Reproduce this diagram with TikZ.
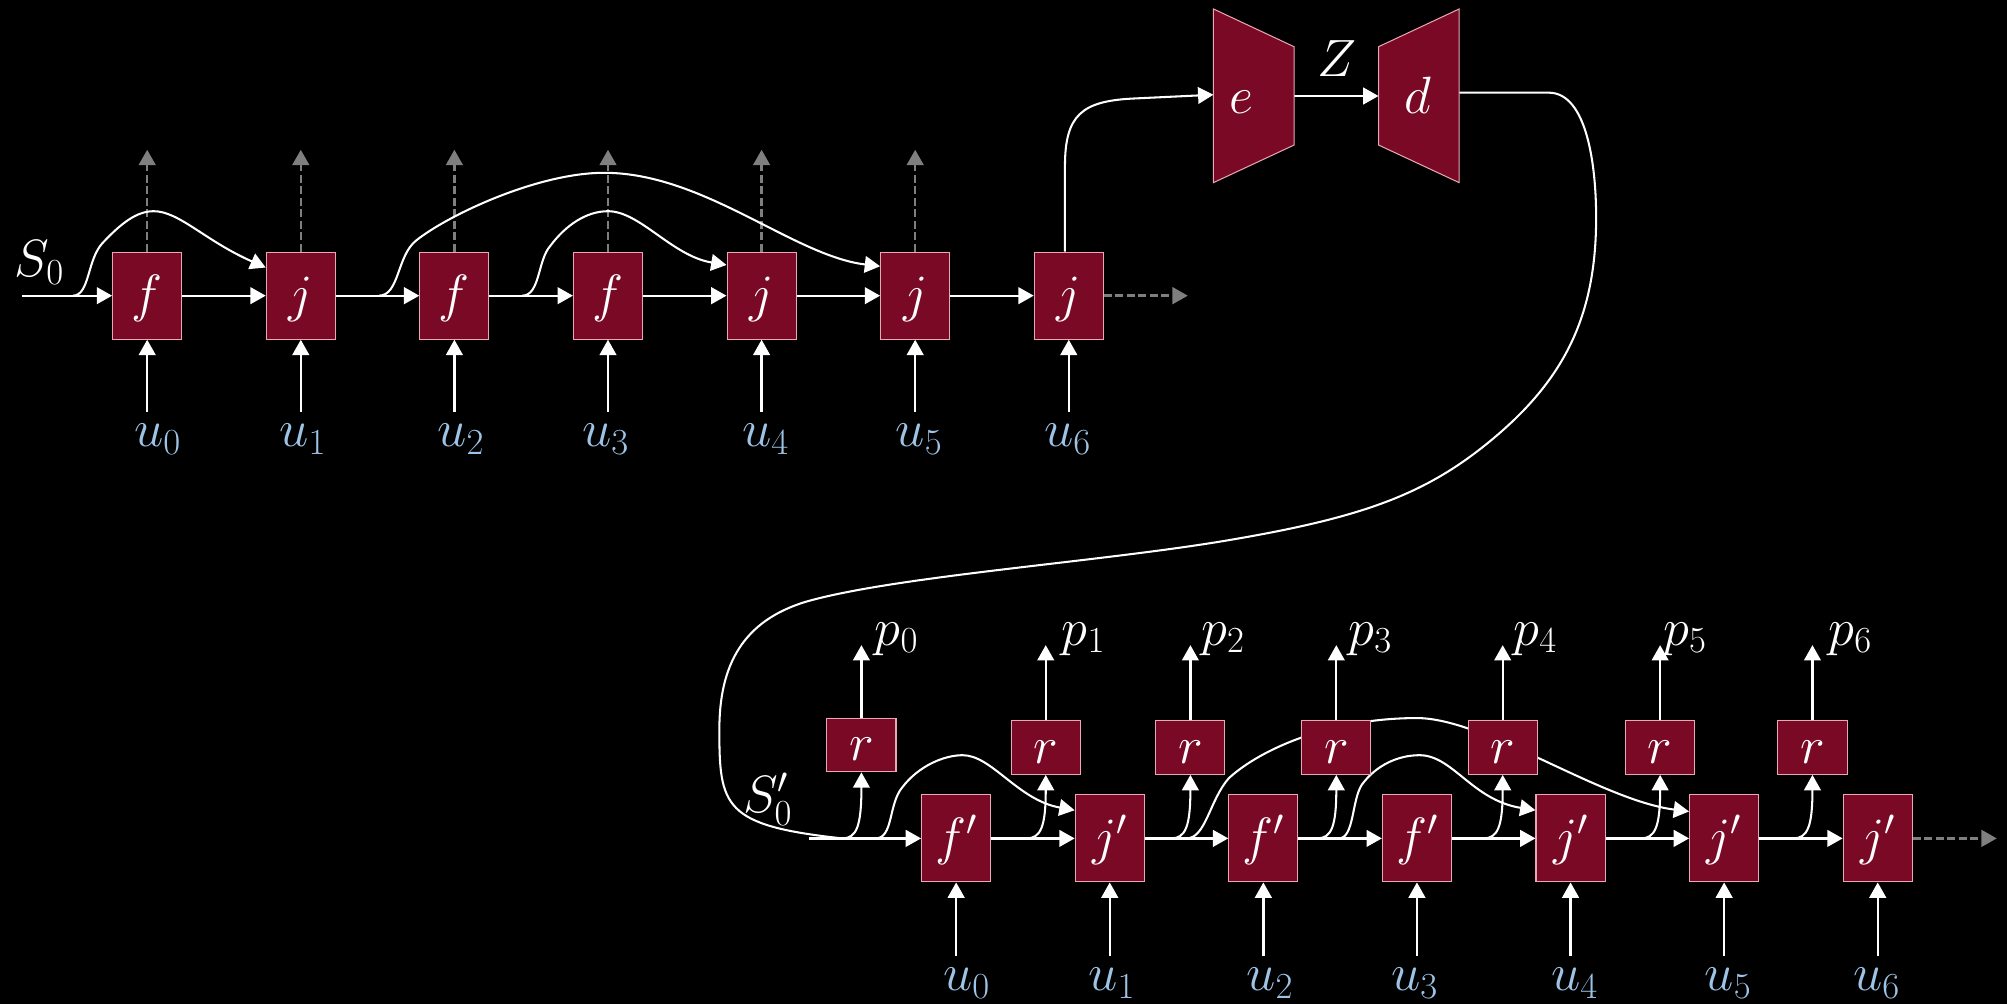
\RequirePackage{fix-cm}
\documentclass[tikz,border=0pt]{standalone}
\usetikzlibrary{arrows.meta,calc}

\definecolor{boxred}{RGB}{122,9,38}
\definecolor{boxedge}{RGB}{232,166,182}
\definecolor{ublue}{RGB}{157,195,230}
\definecolor{dgray}{RGB}{127,127,127}

\pgfdeclarelayer{back}
\pgfdeclarelayer{wires}
\pgfsetlayers{back,wires,main}

\tikzset{
  every node/.style={font=\fontsize{41}{48}\selectfont, text=white},
  blk/.style={draw=boxedge, line width=0.8pt, fill=boxred, inner sep=0pt,
    minimum width=54pt, minimum height=68pt, text height=31pt, text depth=6pt},
  rblk/.style={blk, minimum height=42pt},
  tip/.style={-{Triangle[length=12pt,width=13pt]}},
  flow/.style={draw=white, line width=1.8pt, tip},
  wire/.style={draw=white, line width=1.6pt},
  wirearrow/.style={wire, tip},
  ghost/.style={draw=dgray, line width=2pt, dash pattern=on 6pt off 3pt,
    -{Triangle[length=12pt,width=13pt]}},
  ulabel/.style={text=ublue, anchor=base},
  plabel/.style={anchor=base west},
  trap/.style={draw=boxedge, line width=0.8pt, fill=boxred},
}

\begin{document}
\begin{tikzpicture}[x=1pt,y=-1pt]
\useasboundingbox (0,0) rectangle (1568,784);
\begin{pgfonlayer}{back}
  \fill[black] (0,0) rectangle (1568,784);
\end{pgfonlayer}

% ---- upper chain: f / j cells ----
\foreach \i/\l in {0/f,1/j,2/f,3/f,4/j,5/j,6/j}
  \node[blk] (a\i) at ({115+120*\i},231) {$\l$};

% ---- lower chain: f' / j' cells ----
\foreach \i/\l in {0/f,1/j,2/f,3/f,4/j,5/j,6/j}
  \node[blk] (b\i) at ({747+120*\i},655) {$\l'$};

% ---- readout cells ----
\foreach \i/\x/\y in {0/673/582,1/817/584,2/930/584,3/1044/584,4/1174/584,5/1297/584,6/1416/584}
  \node[rblk] (r\i) at (\x,\y) {$r$};

% ---- inputs u_i ----
\foreach \i/\o in {0/8,1/1.5,2/5,3/-2,4/3,5/3,6/-1} {
  \node[ulabel] (ut\i) at ({115+120*\i+\o},349) {$u_{\i}$};
  \node[ulabel] (ub\i) at ({747+120*\i+\o},774) {$u_{\i}$};
  \coordinate (it\i) at ({115+120*\i},322);
  \coordinate (ib\i) at ({747+120*\i},747);
}

% ---- outputs p_i ----
\foreach \i/\x/\o in {0/673/7,1/817/9,2/930/5,3/1044/6,4/1174/5,5/1297/-1,6/1416/9} {
  \coordinate (pt\i) at (\x,504);
  \node[plabel] (p\i) at ({\x+\o},504) {$p_{\i}$};
}

% ---- probe ends above the upper chain ----
\foreach \i in {0,...,5}
  \coordinate (g\i) at ({115+120*\i},117);

% ---- encoder / decoder ----
\draw[trap] (948,7) -- (1011,36.5) -- (1011,113.3) -- (948,142.7) -- cycle;
\draw[trap] (1077,36.5) -- (1140,7) -- (1140,142.7) -- (1077,113.3) -- cycle;
\node[anchor=base] (enc) at (970,88.5) {$e$};
\node[anchor=base] (dec) at (1108,88.5) {$d$};
\node[anchor=base west] (zl) at (1026,60) {$Z$};
\coordinate (ein) at (948,74);
\coordinate (eout) at (1011,75);
\coordinate (din) at (1077,75);
\coordinate (dout) at (1140,72.4);

% ---- state labels ----
\node[anchor=base west] (s0l) at (8,216) {$S_0$};
\node[anchor=base west] (s0pl) at (577,635) {$S'_0$};
\coordinate (s0) at (17,231);
\coordinate (s0b) at (632,655);
\coordinate (ga) at (928,231);
\coordinate (gb) at (1560,655);

\begin{pgfonlayer}{wires}
  % probes and trailing outputs
  \foreach \i in {0,...,5}
    \draw[ghost] (a\i.north) -- (g\i);
  \draw[ghost] (a6.east) -- (ga);
  \draw[ghost] (b6.east) -- (gb);

  % inputs and readouts
  \foreach \i in {0,...,6} {
    \draw[flow] (it\i) -- (a\i.south);
    \draw[flow] (ib\i) -- (b\i.south);
    \draw[flow] (r\i.north) -- (pt\i);
  }

  % main state paths
  \draw[flow] (s0) -- (a0.west);
  \draw[flow] (s0b) -- (b0.west);
  \foreach \i [count=\j from 1] in {0,...,5} {
    \draw[flow] (a\i.east) -- (a\j.west);
    \draw[flow] (b\i.east) -- (b\j.west);
  }

  % skip connections, upper chain
  \draw[wirearrow] (57,231) .. controls (70,231) and (68,203) .. (80,190)
    .. controls (95,174) and (107,165) .. (120,165)
    .. controls (140,165) and (160,188) .. ($(a1.west)+(0,-22)$);
  \draw[wirearrow] (296,231) .. controls (312,231) and (310,200) .. (325,188)
    .. controls (350,168) and (420,135) .. (472,135)
    .. controls (550,135) and (620,200) .. ($(a5.west)+(0,-23)$);
  \draw[wirearrow] (408,231) .. controls (422,231) and (420,203) .. (430,192)
    .. controls (442,176) and (458,165) .. (475,165)
    .. controls (500,165) and (525,200) .. ($(a4.west)+(0,-24)$);

  % last cell to encoder, encoder to decoder
  \draw[wirearrow] ($(a6.north)+(-3,0)$) -- (832,130)
    .. controls (832,90) and (845,79) .. (885,77) -- (ein);
  \draw[flow] (eout) -- (din);

  % decoder back to the lower chain
  \draw[wire] (dout) -- (1210,72.4)
    .. controls (1240,72.4) and (1247,130) .. (1247,170)
    .. controls (1247,250) and (1220,300) .. (1160,348)
    .. controls (1110,388) and (1060,405) .. (960,422)
    .. controls (860,439) and (700,450) .. (630,470)
    .. controls (580,485) and (562,520) .. (562,570)
    .. controls (562,630) and (565,645) .. (658,655);

  % readout branches
  \foreach \i/\x in {0/673,1/817,2/930,3/1044,4/1174,5/1297,6/1416}
    \draw[wirearrow] ({\x-15},655) .. controls ({\x-4},655) and (\x,646) .. (r\i.south);

  % skip connections, lower chain
  \draw[wirearrow] (684,655) .. controls (698,655) and (694,628) .. (705,615)
    .. controls (718,598) and (738,590) .. (752,590)
    .. controls (775,590) and (795,625) .. ($(b1.west)+(0,-22)$);
  \draw[wirearrow] (927,655) .. controls (942,655) and (945,625) .. (960,608)
    .. controls (985,585) and (1040,561) .. (1107,561)
    .. controls (1160,561) and (1250,625) .. ($(b5.west)+(0,-21)$);
  \draw[wirearrow] (1046,655) .. controls (1058,655) and (1056,625) .. (1064,613)
    .. controls (1075,598) and (1092,590) .. (1109,590)
    .. controls (1135,590) and (1150,625) .. ($(b4.west)+(0,-22)$);
\end{pgfonlayer}
\end{tikzpicture}
\end{document}
